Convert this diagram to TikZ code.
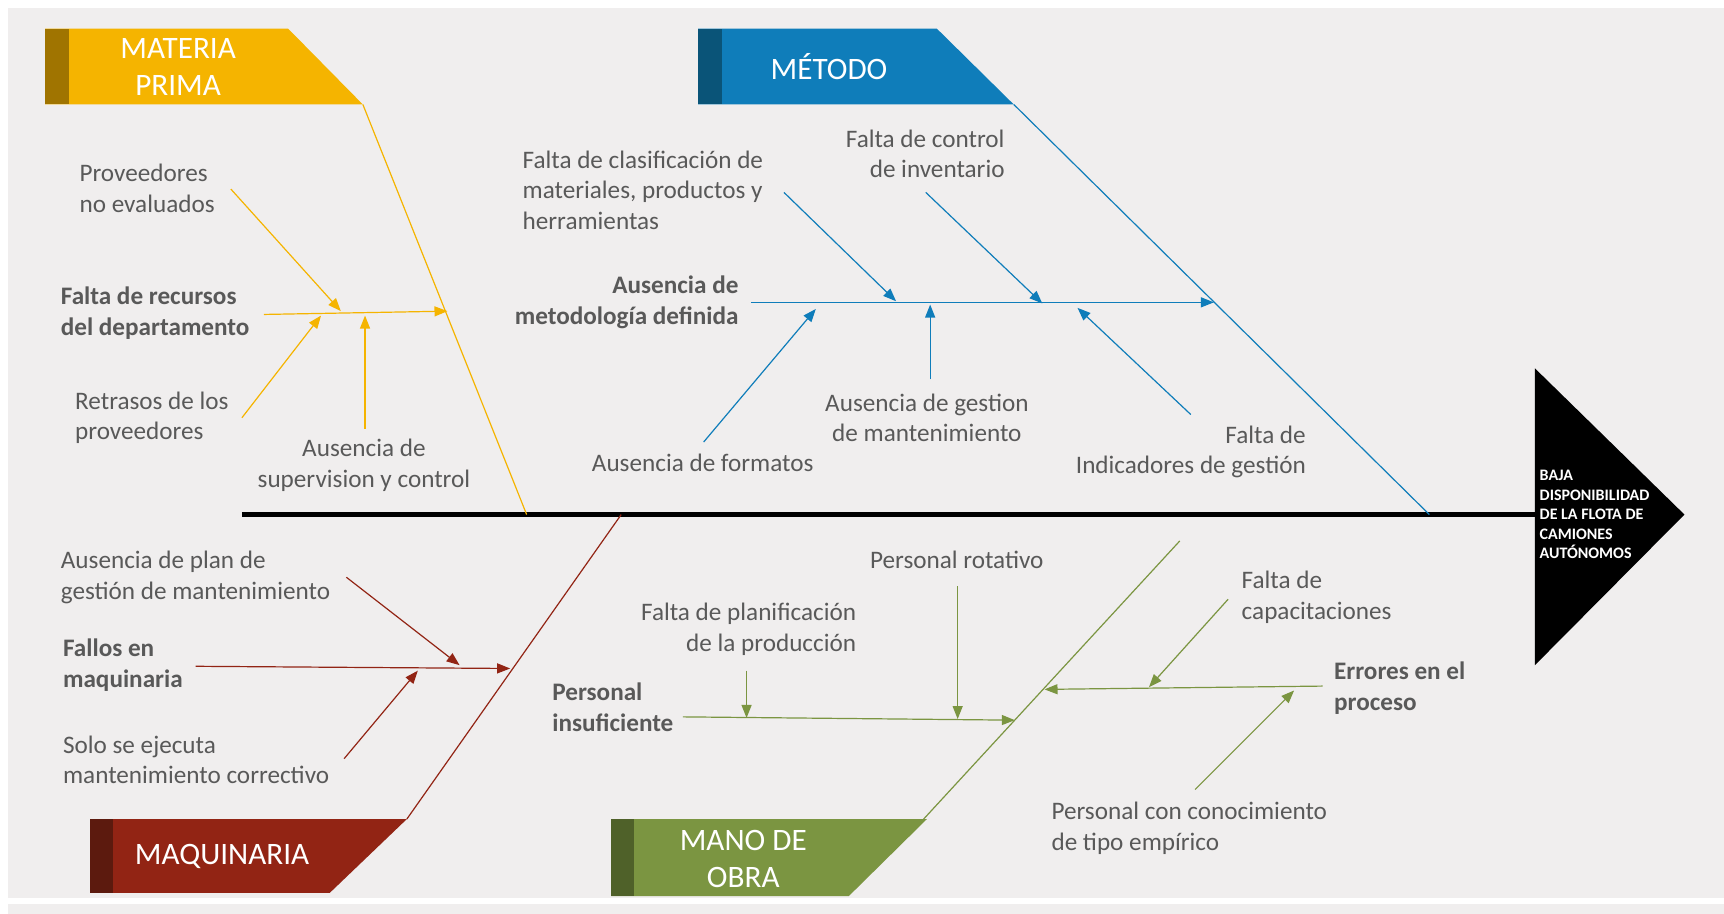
\documentclass[tikz,border=0pt]{standalone}
\usepackage{fontspec}
\setmainfont{Carlito}
\usetikzlibrary{arrows.meta}

\definecolor{bg}{HTML}{F0EEEE}
\definecolor{txt}{HTML}{595959}
\definecolor{gold}{HTML}{F5B400}
\definecolor{golddark}{HTML}{A07400}
\definecolor{blu}{HTML}{0F7DBA}
\definecolor{bludark}{HTML}{0A5478}
\definecolor{brick}{HTML}{922414}
\definecolor{brickdark}{HTML}{5C1A0E}
\definecolor{olive}{HTML}{7B9541}
\definecolor{olivedark}{HTML}{4F6129}

\begin{document}
\begin{tikzpicture}[x=0.55pt, y=-0.55pt,
  cause/.style={text=txt, font=\fontsize{12.6}{15.4}\selectfont, inner sep=0pt, align=left},
  boldcause/.style={cause, font=\fontsize{12.6}{15.4}\selectfont\bfseries},
  banner/.style={text=white, font=\fontsize{15.6}{18.7}\selectfont, align=center, inner sep=0pt},
  bone/.style={line width=0.6pt},
  arr/.style={line width=0.6pt, -{Triangle[length=6.5pt,width=5pt]}}]

  % background
  \useasboundingbox (0,0) rectangle (1568,831);
  \fill[white] (0,0) rectangle (1568,831);
  \fill[bg] (7,7) rectangle (1568,817);
  \fill[bg] (7,822) rectangle (1568,831);

  % banners
  \fill[gold] (41,26) -- (262,26) -- (330,95) -- (41,95) -- cycle;
  \fill[golddark] (41,26) rectangle (63,95);
  \node[banner] (mp) at (162,61) {MATERIA\\PRIMA};

  \fill[blu] (635,26) -- (852,26) -- (922,95) -- (635,95) -- cycle;
  \fill[bludark] (635,26) rectangle (657,95);
  \node[banner] (me) at (754,61) {MÉTODO};

  \fill[brick] (82,745) -- (370,745) -- (300,812) -- (82,812) -- cycle;
  \fill[brickdark] (82,745) rectangle (103,812);
  \node[banner] (mq) at (202,779) {MAQUINARIA};

  \fill[olive] (556,745) -- (843,745) -- (772,815) -- (556,815) -- cycle;
  \fill[olivedark] (556,745) rectangle (577,815);
  \node[banner] (mo) at (676,781) {MANO DE\\OBRA};

  % effect
  \fill[black] (1396,335) -- (1532,468) -- (1396,605) -- cycle;
  \node[text=white, font=\fontsize{8}{9.7}\selectfont\bfseries, align=left, inner sep=0pt,
        anchor=west] (efecto) at (1400,468)
        {BAJA\\DISPONIBILIDAD\\DE LA FLOTA DE\\CAMIONES\\AUTÓNOMOS};

  % spine
  \coordinate (spL) at (220,468);
  \coordinate (spR) at (1397,468);
  \draw[line width=2.5pt] (spL) -- (spR);

  % main bones
  \coordinate (mpA) at (330,95);   \coordinate (mpB) at (479,468);
  \coordinate (meA) at (922,95);   \coordinate (meB) at (1300,468);
  \coordinate (mqA) at (370,745);  \coordinate (mqB) at (565,468);
  \coordinate (moA) at (840,745);  \coordinate (moB) at (1073,492);
  \draw[bone, gold] (mpA) -- (mpB);
  \draw[bone, blu] (meA) -- (meB);
  \draw[bone, brick] (mqA) -- (mqB);
  \draw[bone, olive] (moA) -- (moB);

  % labels
  \node[cause, anchor=west] (pv) at (72,171) {Proveedores\\no evaluados};
  \node[boldcause, anchor=west] (fr) at (55,285) {Falta de recursos\\del departamento};
  \node[cause, anchor=west] (rt) at (68,380) {Retrasos de los\\proveedores};
  \node[cause, align=center] (as) at (331,423) {Ausencia de\\supervision y control};

  \node[cause, anchor=west] (fc) at (475,173) {Falta de clasificación de\\materiales, productos y\\herramientas};
  \node[cause, align=right, anchor=east] (fi) at (914,140) {Falta de control\\de inventario};
  \node[boldcause, align=right, anchor=east] (am) at (672,275) {Ausencia de\\metodología definida};
  \node[cause, anchor=west] (af) at (538,421) {Ausencia de formatos};
  \node[cause, align=center] (ag) at (843,380) {Ausencia de gestion\\de mantenimiento};
  \node[cause, align=right, anchor=east] (fg) at (1188,411) {Falta de\\Indicadores de gestión};

  \node[cause, anchor=west] (ap) at (55,525) {Ausencia de plan de\\gestión de mantenimiento};
  \node[boldcause, anchor=west] (fm) at (57,605) {Fallos en\\maquinaria};
  \node[cause, anchor=west] (se) at (57,691) {Solo se ejecuta\\mantenimiento correctivo};

  \node[boldcause, anchor=west] (pi) at (502,643) {Personal\\insuficiente};
  \node[cause, align=right, anchor=east] (fp) at (779,572) {Falta de planificación\\de la producción};
  \node[cause, anchor=west] (pr) at (791,509) {Personal rotativo};
  \node[boldcause, anchor=west] (ee) at (1213,626) {Errores en el\\proceso};
  \node[cause, anchor=west] (fk) at (1129,543) {Falta de\\capacitaciones};
  \node[cause, anchor=west] (pc) at (956,753) {Personal con conocimiento\\de tipo empírico};

  % arrows - materia prima
  \coordinate (frS) at (240,286);  \coordinate (frE) at (407,283);
  \coordinate (pvS) at (210,172);  \coordinate (pvE) at (310,283);
  \coordinate (rtS) at (220,380);  \coordinate (rtE) at (292,287);
  \coordinate (asS) at (332,390);  \coordinate (asE) at (332,287);
  \draw[arr, gold] (frS) -- (frE);
  \draw[arr, gold] (pvS) -- (pvE);
  \draw[arr, gold] (rtS) -- (rtE);
  \draw[arr, gold] (asS) -- (asE);

  % arrows - metodo
  \coordinate (amS) at (683,275);  \coordinate (amE) at (1104,275);
  \coordinate (fcS) at (713,175);  \coordinate (fcE) at (815,274);
  \coordinate (fiS) at (842,175);  \coordinate (fiE) at (948,276);
  \coordinate (afS) at (640,402);  \coordinate (afE) at (742,281);
  \coordinate (agS) at (846,345);  \coordinate (agE) at (846,277);
  \coordinate (fgS) at (1083,377); \coordinate (fgE) at (980,280);
  \draw[arr, blu] (amS) -- (amE);
  \draw[arr, blu] (fcS) -- (fcE);
  \draw[arr, blu] (fiS) -- (fiE);
  \draw[arr, blu] (afS) -- (afE);
  \draw[arr, blu] (agS) -- (agE);
  \draw[arr, blu] (fgS) -- (fgE);

  % arrows - maquinaria
  \coordinate (fmS) at (178,606);  \coordinate (fmE) at (464,608);
  \coordinate (apS) at (315,525);  \coordinate (apE) at (418,605);
  \coordinate (seS) at (313,690);  \coordinate (seE) at (380,610);
  \draw[arr, brick] (fmS) -- (fmE);
  \draw[arr, brick] (apS) -- (apE);
  \draw[arr, brick] (seS) -- (seE);

  % arrows - mano de obra
  \coordinate (piS) at (621,652);  \coordinate (piE) at (923,655);
  \coordinate (fpS) at (679,610);  \coordinate (fpE) at (679,653);
  \coordinate (prS) at (871,533);  \coordinate (prE) at (871,654);
  \coordinate (eeS) at (1203,624); \coordinate (eeE) at (950,627);
  \coordinate (fkS) at (1117,545); \coordinate (fkE) at (1045,625);
  \coordinate (pcS) at (1087,718); \coordinate (pcE) at (1177,628);
  \draw[arr, olive] (piS) -- (piE);
  \draw[arr, olive] (fpS) -- (fpE);
  \draw[arr, olive] (prS) -- (prE);
  \draw[arr, olive] (eeS) -- (eeE);
  \draw[arr, olive] (fkS) -- (fkE);
  \draw[arr, olive] (pcS) -- (pcE);

\end{tikzpicture}
\end{document}
